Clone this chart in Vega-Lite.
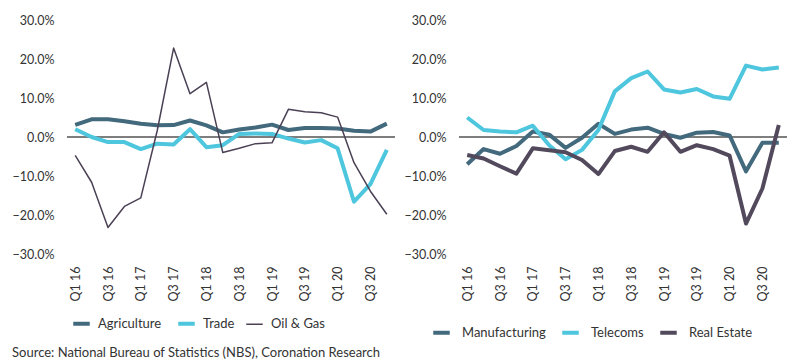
{
  "$schema": "https://vega.github.io/schema/vega-lite/v6.json",
  "padding": {"left": 12, "top": 14, "right": 0, "bottom": 4},
  "config": {
    "font": "Lato",
    "view": {"stroke": null},
    "axis": {"labelFont": "Lato", "labelColor": "#333333", "labelFontSize": 12.5, "domain": false, "ticks": false, "grid": false, "title": null},
    "legend": {"labelFont": "Lato", "labelFontSize": 13, "labelColor": "#333333", "symbolType": "stroke", "symbolSize": 272, "symbolStrokeWidth": 4, "labelOffset": 10, "columnPadding": 8, "direction": "horizontal", "title": null}
  },
  "spacing": 8,
  "resolve": {"scale": {"color": "independent"}, "legend": {"color": "independent"}},
  "title": {"text": "Source: National Bureau of Statistics (NBS), Coronation Research", "orient": "bottom", "anchor": "start", "fontSize": 13, "fontWeight": "normal", "font": "Lato", "color": "#333333", "offset": 6},
  "hconcat": [
    {
      "width": 328,
      "height": 234,
      "data": {"values": [
        {"q":"Q1 16","s":"Agriculture","v":3.09},{"q":"Q2 16","s":"Agriculture","v":4.53},{"q":"Q3 16","s":"Agriculture","v":4.54},{"q":"Q4 16","s":"Agriculture","v":4.03},
        {"q":"Q1 17","s":"Agriculture","v":3.39},{"q":"Q2 17","s":"Agriculture","v":3.01},{"q":"Q3 17","s":"Agriculture","v":3.06},{"q":"Q4 17","s":"Agriculture","v":4.23},
        {"q":"Q1 18","s":"Agriculture","v":3.0},{"q":"Q2 18","s":"Agriculture","v":1.19},{"q":"Q3 18","s":"Agriculture","v":1.91},{"q":"Q4 18","s":"Agriculture","v":2.46},
        {"q":"Q1 19","s":"Agriculture","v":3.17},{"q":"Q2 19","s":"Agriculture","v":1.79},{"q":"Q3 19","s":"Agriculture","v":2.28},{"q":"Q4 19","s":"Agriculture","v":2.31},
        {"q":"Q1 20","s":"Agriculture","v":2.2},{"q":"Q2 20","s":"Agriculture","v":1.58},{"q":"Q3 20","s":"Agriculture","v":1.39},{"q":"Q4 20","s":"Agriculture","v":3.42},
        {"q":"Q1 16","s":"Trade","v":2.0},{"q":"Q2 16","s":"Trade","v":0.0},{"q":"Q3 16","s":"Trade","v":-1.3},{"q":"Q4 16","s":"Trade","v":-1.3},
        {"q":"Q1 17","s":"Trade","v":-3.1},{"q":"Q2 17","s":"Trade","v":-1.7},{"q":"Q3 17","s":"Trade","v":-1.9},{"q":"Q4 17","s":"Trade","v":2.0},
        {"q":"Q1 18","s":"Trade","v":-2.6},{"q":"Q2 18","s":"Trade","v":-2.1},{"q":"Q3 18","s":"Trade","v":0.8},{"q":"Q4 18","s":"Trade","v":0.9},
        {"q":"Q1 19","s":"Trade","v":0.8},{"q":"Q2 19","s":"Trade","v":-0.4},{"q":"Q3 19","s":"Trade","v":-1.4},{"q":"Q4 19","s":"Trade","v":-0.8},
        {"q":"Q1 20","s":"Trade","v":-2.9},{"q":"Q2 20","s":"Trade","v":-16.6},{"q":"Q3 20","s":"Trade","v":-12.1},{"q":"Q4 20","s":"Trade","v":-3.3},
        {"q":"Q1 16","s":"Oil & Gas","v":-4.7},{"q":"Q2 16","s":"Oil & Gas","v":-11.6},{"q":"Q3 16","s":"Oil & Gas","v":-23.2},{"q":"Q4 16","s":"Oil & Gas","v":-17.8},
        {"q":"Q1 17","s":"Oil & Gas","v":-15.6},{"q":"Q2 17","s":"Oil & Gas","v":1.6},{"q":"Q3 17","s":"Oil & Gas","v":22.8},{"q":"Q4 17","s":"Oil & Gas","v":11.1},
        {"q":"Q1 18","s":"Oil & Gas","v":14.0},{"q":"Q2 18","s":"Oil & Gas","v":-4.0},{"q":"Q3 18","s":"Oil & Gas","v":-2.9},{"q":"Q4 18","s":"Oil & Gas","v":-1.7},
        {"q":"Q1 19","s":"Oil & Gas","v":-1.5},{"q":"Q2 19","s":"Oil & Gas","v":7.1},{"q":"Q3 19","s":"Oil & Gas","v":6.5},{"q":"Q4 19","s":"Oil & Gas","v":6.2},
        {"q":"Q1 20","s":"Oil & Gas","v":5.1},{"q":"Q2 20","s":"Oil & Gas","v":-6.6},{"q":"Q3 20","s":"Oil & Gas","v":-13.9},{"q":"Q4 20","s":"Oil & Gas","v":-19.8}
      ]},
      "encoding": {
        "x": {"field": "q", "type": "ordinal", "sort": null, "scale": {"type": "point", "padding": 0.5},
          "axis": {"labelAngle": -90, "labelPadding": 12, "values": ["Q1 16","Q3 16","Q1 17","Q3 17","Q1 18","Q3 18","Q1 19","Q3 19","Q1 20","Q3 20"]}},
        "y": {"field": "v", "type": "quantitative", "scale": {"domain": [-30, 30]},
          "axis": {"values": [-30,-20,-10,0,10,20,30], "labelExpr": "format(datum.value, '.1f') + '%'", "labelPadding": 13}},
        "color": {"field": "s", "type": "nominal",
          "scale": {"domain": ["Agriculture","Trade","Oil & Gas"], "range": ["#43697D","#4DC6DE","#4B4155"]},
          "legend": {"orient": "none", "legendX": 8, "legendY": 297, "encode": {"symbols": {"update": {"strokeWidth": {"signal": "datum.value === 'Oil & Gas' ? 1.5 : 4"}}}}}}
      },
      "layer": [
        {
          "mark": {"type": "rule", "color": "#7f7f7f", "strokeWidth": 1},
          "encoding": {"y": {"datum": 0, "type": "quantitative"}, "x": null, "color": null}
        },
        {
          "transform": [{"filter": "datum.s !== 'Oil & Gas'"}],
          "mark": {"type": "line", "strokeJoin": "round", "strokeWidth": 4}
        },
        {
          "transform": [{"filter": "datum.s === 'Oil & Gas'"}],
          "mark": {"type": "line", "strokeJoin": "round", "strokeWidth": 1.5}
        }
      ]
    },
    {
      "width": 328,
      "height": 234,
      "data": {"values": [
        {"q":"Q1 16","s":"Manufacturing","v":-7.0},{"q":"Q2 16","s":"Manufacturing","v":-3.1},{"q":"Q3 16","s":"Manufacturing","v":-4.3},{"q":"Q4 16","s":"Manufacturing","v":-2.3},
        {"q":"Q1 17","s":"Manufacturing","v":1.4},{"q":"Q2 17","s":"Manufacturing","v":0.6},{"q":"Q3 17","s":"Manufacturing","v":-2.8},{"q":"Q4 17","s":"Manufacturing","v":-0.2},
        {"q":"Q1 18","s":"Manufacturing","v":3.4},{"q":"Q2 18","s":"Manufacturing","v":0.8},{"q":"Q3 18","s":"Manufacturing","v":1.9},{"q":"Q4 18","s":"Manufacturing","v":2.4},
        {"q":"Q1 19","s":"Manufacturing","v":0.8},{"q":"Q2 19","s":"Manufacturing","v":-0.2},{"q":"Q3 19","s":"Manufacturing","v":1.1},{"q":"Q4 19","s":"Manufacturing","v":1.3},
        {"q":"Q1 20","s":"Manufacturing","v":0.4},{"q":"Q2 20","s":"Manufacturing","v":-8.8},{"q":"Q3 20","s":"Manufacturing","v":-1.5},{"q":"Q4 20","s":"Manufacturing","v":-1.5},
        {"q":"Q1 16","s":"Telecoms","v":5.0},{"q":"Q2 16","s":"Telecoms","v":1.8},{"q":"Q3 16","s":"Telecoms","v":1.4},{"q":"Q4 16","s":"Telecoms","v":1.2},
        {"q":"Q1 17","s":"Telecoms","v":2.9},{"q":"Q2 17","s":"Telecoms","v":-2.1},{"q":"Q3 17","s":"Telecoms","v":-5.7},{"q":"Q4 17","s":"Telecoms","v":-3.3},
        {"q":"Q1 18","s":"Telecoms","v":1.8},{"q":"Q2 18","s":"Telecoms","v":11.7},{"q":"Q3 18","s":"Telecoms","v":15.1},{"q":"Q4 18","s":"Telecoms","v":16.8},
        {"q":"Q1 19","s":"Telecoms","v":12.2},{"q":"Q2 19","s":"Telecoms","v":11.4},{"q":"Q3 19","s":"Telecoms","v":12.3},{"q":"Q4 19","s":"Telecoms","v":10.4},
        {"q":"Q1 20","s":"Telecoms","v":9.8},{"q":"Q2 20","s":"Telecoms","v":18.3},{"q":"Q3 20","s":"Telecoms","v":17.3},{"q":"Q4 20","s":"Telecoms","v":17.8},
        {"q":"Q1 16","s":"Real Estate","v":-4.6},{"q":"Q2 16","s":"Real Estate","v":-5.5},{"q":"Q3 16","s":"Real Estate","v":-7.5},{"q":"Q4 16","s":"Real Estate","v":-9.4},
        {"q":"Q1 17","s":"Real Estate","v":-2.9},{"q":"Q2 17","s":"Real Estate","v":-3.4},{"q":"Q3 17","s":"Real Estate","v":-3.9},{"q":"Q4 17","s":"Real Estate","v":-5.9},
        {"q":"Q1 18","s":"Real Estate","v":-9.5},{"q":"Q2 18","s":"Real Estate","v":-3.6},{"q":"Q3 18","s":"Real Estate","v":-2.5},{"q":"Q4 18","s":"Real Estate","v":-3.8},
        {"q":"Q1 19","s":"Real Estate","v":1.2},{"q":"Q2 19","s":"Real Estate","v":-3.8},{"q":"Q3 19","s":"Real Estate","v":-2.1},{"q":"Q4 19","s":"Real Estate","v":-3.1},
        {"q":"Q1 20","s":"Real Estate","v":-4.8},{"q":"Q2 20","s":"Real Estate","v":-22.2},{"q":"Q3 20","s":"Real Estate","v":-13.2},{"q":"Q4 20","s":"Real Estate","v":3.1}
      ]},
      "encoding": {
        "x": {"field": "q", "type": "ordinal", "sort": null, "scale": {"type": "point", "padding": 0.5},
          "axis": {"labelAngle": -90, "labelPadding": 12, "values": ["Q1 16","Q3 16","Q1 17","Q3 17","Q1 18","Q3 18","Q1 19","Q3 19","Q1 20","Q3 20"]}},
        "y": {"field": "v", "type": "quantitative", "scale": {"domain": [-30, 30]},
          "axis": {"values": [-30,-20,-10,0,10,20,30], "labelExpr": "format(datum.value, '.1f') + '%'", "labelPadding": 13}},
        "color": {"field": "s", "type": "nominal",
          "scale": {"domain": ["Manufacturing","Telecoms","Real Estate"], "range": ["#43697D","#4DC6DE","#524A5C"]},
          "legend": {"orient": "none", "legendX": -28, "legendY": 302}}
      },
      "layer": [
        {
          "mark": {"type": "rule", "color": "#7f7f7f", "strokeWidth": 1},
          "encoding": {"y": {"datum": 0, "type": "quantitative"}, "x": null, "color": null}
        },
        {
          "mark": {"type": "line", "strokeJoin": "round", "strokeWidth": 4}
        }
      ]
    }
  ]
}
